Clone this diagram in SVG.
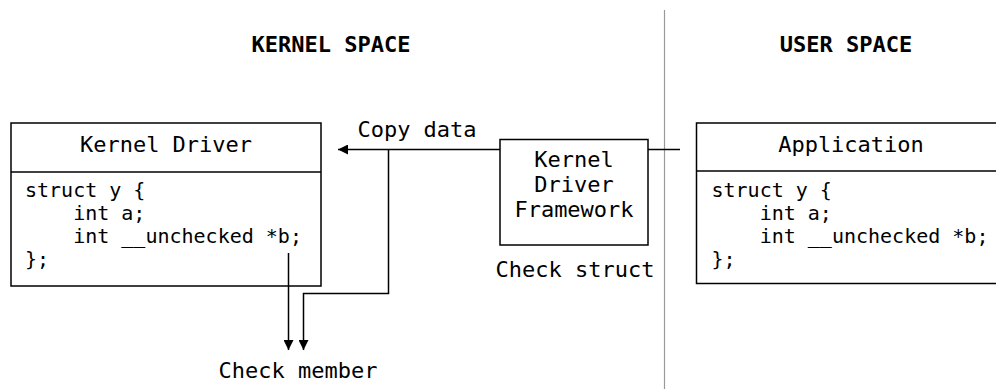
<svg xmlns="http://www.w3.org/2000/svg" width="996" height="389" viewBox="0 0 996 389">
<style>
text{font-family:"DejaVu Sans Mono","Liberation Mono",monospace;fill:#000}
.h{font-size:22px;font-weight:bold}
.t{font-size:22px}
.c{font-size:20px}
.box{fill:#fff;stroke:#000;stroke-width:1.5}
.ln{fill:none;stroke:#000;stroke-width:1.5}
</style>
<defs>
<marker id="ah" viewBox="0 0 10 10" refX="10" refY="5" markerWidth="10" markerHeight="10" markerUnits="userSpaceOnUse" orient="auto">
<path d="M0,0 L10,5 L0,10 z" fill="#000"/>
</marker>
</defs>
<line x1="664.5" y1="10" x2="664.5" y2="389" stroke="#999" stroke-width="1.2"/>
<text class="h" x="331" y="52" text-anchor="middle">KERNEL SPACE</text>
<text class="h" x="846" y="52" text-anchor="middle">USER SPACE</text>
<g id="kernel-driver">
<rect class="box" x="11" y="123" width="310" height="163"/>
<line class="ln" x1="11" y1="172" x2="321" y2="172"/>
<text class="t" x="166" y="152" text-anchor="middle">Kernel Driver</text>
<text class="c" x="25" y="197" xml:space="preserve">struct y {</text>
<text class="c" x="25" y="220" xml:space="preserve">    int a;</text>
<text class="c" x="25" y="243" xml:space="preserve">    int __unchecked *b;</text>
<text class="c" x="25" y="266" xml:space="preserve">};</text>
</g>
<g id="framework">
<rect class="box" x="500" y="139.5" width="148" height="105.5"/>
<text class="t" x="574" y="167" text-anchor="middle">Kernel</text>
<text class="t" x="574" y="192" text-anchor="middle">Driver</text>
<text class="t" x="574" y="217" text-anchor="middle">Framework</text>
<text class="t" x="575" y="277" text-anchor="middle">Check struct</text>
</g>
<g id="application">
<rect class="box" x="696.5" y="123" width="310" height="160.5"/>
<line class="ln" x1="696.5" y1="171" x2="1006" y2="171"/>
<text class="t" x="851" y="152" text-anchor="middle">Application</text>
<text class="c" x="711.5" y="197" xml:space="preserve">struct y {</text>
<text class="c" x="711.5" y="220" xml:space="preserve">    int a;</text>
<text class="c" x="711.5" y="243" xml:space="preserve">    int __unchecked *b;</text>
<text class="c" x="711.5" y="266" xml:space="preserve">};</text>
</g>
<g id="connectors">
<line class="ln" x1="648" y1="149.5" x2="680" y2="149.5"/>
<line class="ln" x1="500" y1="149.5" x2="338" y2="149.5" marker-end="url(#ah)"/>
<polyline class="ln" points="388.5,149.5 388.5,293.5 303.5,293.5 303.5,350" marker-end="url(#ah)"/>
<line class="ln" x1="288.5" y1="253" x2="288.5" y2="350" marker-end="url(#ah)"/>
<text class="t" x="417" y="137" text-anchor="middle">Copy data</text>
<text class="t" x="298" y="378" text-anchor="middle">Check member</text>
</g>
</svg>
